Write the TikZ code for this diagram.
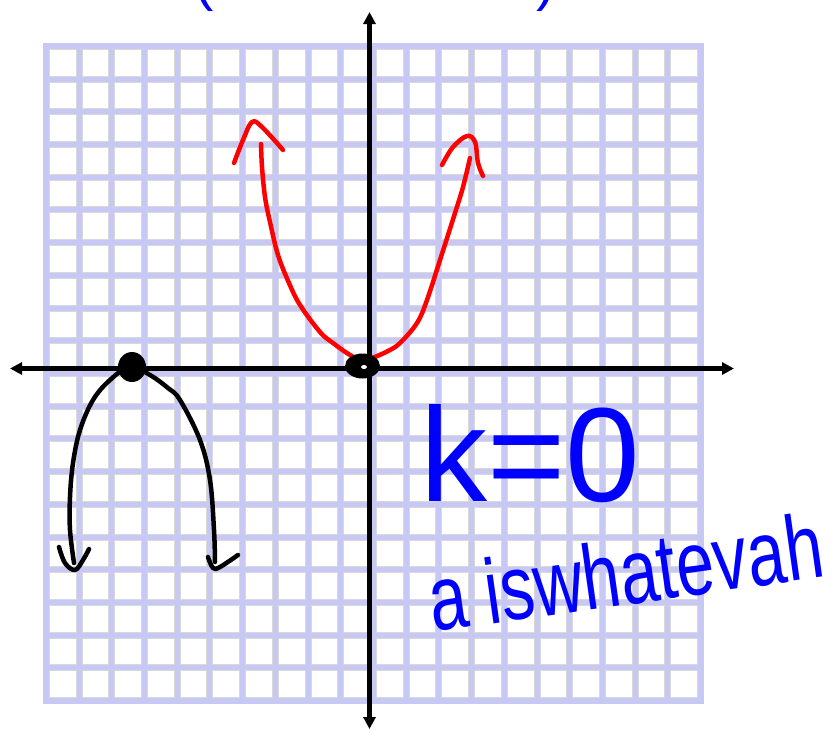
\documentclass[tikz,border=0pt]{standalone}
\usepackage{fontspec}
\setsansfont{Liberation Sans}
\usetikzlibrary{arrows.meta}
\usepackage{xcolor}
\definecolor{gridLav}{RGB}{200,200,245}
\tikzset{
    font=\sffamily,
    >={Triangle[length=12pt,width=12pt]},
    % Grid
    cell/.style={draw=black!15, fill=white, line width=1pt},
    % Curves
    axis/.style={<->, line width=4.5pt, black},
    curveRed/.style={red, line width=4.5pt, line cap=round, line join=round},
    curveBlack/.style={black, line width=4.5pt, line cap=round, line join=round},
    % Labels
    hand/.style={text=blue, inner sep=0pt}
}

\begin{document}
\begin{tikzpicture}[x=1pt, y=-1pt]

\clip (0,0) rectangle (837,729);

% grid paper
\fill[gridLav] (43.3,43.3) rectangle (703.7,703.7);
\foreach \i in {0,...,19}
  \foreach \j in {0,...,19}
    \draw[cell] ({46.3+32.72*\i+3},{46.3+32.72*\j+3}) rectangle ++(26.72,26.72);

% axes
\coordinate (xL) at (10,368.5);
\coordinate (xR) at (734,368.5);
\coordinate (yT) at (369.5,12);
\coordinate (yB) at (369.5,729);
\draw[axis] (xL) -- (xR);
\draw[axis] (yB) -- (yT);

% red parabola, vertex at origin
\draw[curveRed] plot[smooth, tension=0.6] coordinates {
    (261,144) (262,167) (265,197) (270,222) (278,255) (289,283) (300,305)
    (320,332) (333,343) (350,355) (362,360) (372,358) (388,351) (400,343)
    (417,323) (427,300) (440,260) (455,213) (463,187) (470,158)};
\draw[curveRed] plot[smooth, tension=0.6] coordinates {
    (234,163) (243,140) (252,122) (262,127) (283,150)};
\draw[curveRed] plot[smooth, tension=0.6] coordinates {
    (442,165) (453,147) (467,136) (475,142) (478,163) (483,176)};

% black parabola, vertex on the x-axis
\draw[curveBlack] plot[smooth, tension=0.6] coordinates {
    (74,563) (70,530) (70,497) (73,463) (80,430) (93,400) (110,380)
    (130,367) (150,375) (168,388) (180,400) (200,440) (210,480)
    (214,530) (215,562)};
\draw[curveBlack] plot[smooth, tension=0.6] coordinates {
    (59,547) (65,563) (75,570) (83,560) (89,549)};
\draw[curveBlack] plot[smooth, tension=0.6] coordinates {
    (208,557) (213,568) (220,567) (238,555)};

% double roots
\fill (132,367) ellipse [x radius=14, y radius=15];
\fill (362.5,366) ellipse [x radius=17.5, y radius=12.5];
\fill[white] (364,367) ellipse [x radius=3, y radius=2];

% notes
\node[hand, anchor=base] (title) at (375,-1)
    {\fontsize{58}{58}\selectfont (Double Root)};
\node[hand, anchor=base west] (kval) at (420,501)
    {\fontsize{134}{134}\selectfont k=0};
\node[hand, anchor=base west, rotate=8] (aval) at (433,632)
    {\scalebox{0.74}[1]{\fontsize{92}{92}\selectfont a iswhatevah}};

\end{tikzpicture}
\end{document}
